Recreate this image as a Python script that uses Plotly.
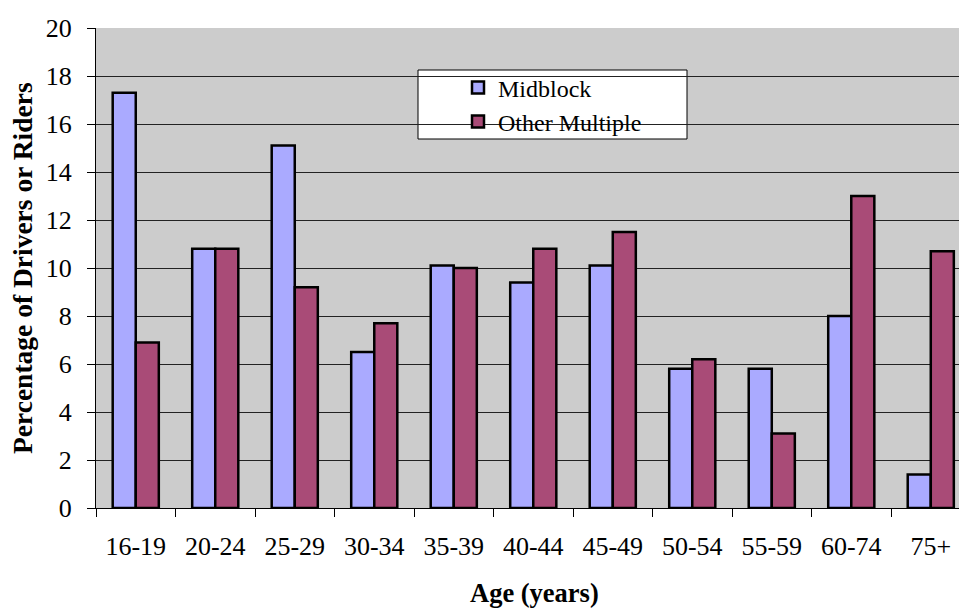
import plotly.graph_objects as go

categories = ["16-19", "20-24", "25-29", "30-34", "35-39", "40-44", "45-49", "50-54", "55-59", "60-74", "75+"]
midblock = [17.3, 10.8, 15.1, 6.5, 10.1, 9.4, 10.1, 5.8, 5.8, 8.0, 1.4]
other_multiple = [6.9, 10.8, 9.2, 7.7, 10.0, 10.8, 11.5, 6.2, 3.1, 13.0, 10.7]
y_ticks = [0, 2, 4, 6, 8, 10, 12, 14, 16, 18, 20]

FONT = "Liberation Serif"

fig = go.Figure()
fig.add_trace(go.Bar(
    x=categories, y=midblock, name="Midblock",
    marker=dict(color="#AAAAFF", line=dict(color="black", width=2.5)),
    legend="legend", showlegend=True,
))
fig.add_trace(go.Bar(
    x=categories, y=other_multiple, name="Other Multiple",
    marker=dict(color="#A94B77", line=dict(color="black", width=2.5)),
    legend="legend2", showlegend=True,
))

L, T, B = 96, 28, 102
W, H = 959, 610
pw = W - L
ph = H - T - B


def px(x):
    return (x - L) / pw


def py(y):
    return (H - B - y) / ph


fig.update_layout(
    width=W, height=H,
    margin=dict(l=L, r=0, t=T, b=B),
    paper_bgcolor="white",
    plot_bgcolor="#CCCCCC",
    barmode="group",
    bargap=0.42,
    bargroupgap=0,
    showlegend=True,
    font=dict(family=FONT, size=25, color="black"),
    xaxis=dict(
        range=[-0.5, 10.355],
        tickson="boundaries",
        ticks="outside", ticklen=8, tickcolor="black", tickwidth=1,
        showline=True, linecolor="black", linewidth=1,
        showgrid=False,
        tickfont=dict(family=FONT, size=26),
        ticklabelstandoff=15,
    ),
    yaxis=dict(
        range=[0, 20],
        tickvals=y_ticks,
        ticks="outside", ticklen=8, tickcolor="black", tickwidth=1,
        showline=True, linecolor="black", linewidth=1,
        showgrid=True, gridcolor="#222222", gridwidth=1,
        zeroline=False,
        tickfont=dict(family=FONT, size=26),
        ticklabelstandoff=10,
    ),
    legend=dict(
        x=px(458), y=py(88), xanchor="left", yanchor="middle",
        bgcolor="rgba(0,0,0,0)", borderwidth=0,
        font=dict(family=FONT, size=24),
    ),
    legend2=dict(
        x=px(458), y=py(122), xanchor="left", yanchor="middle",
        bgcolor="rgba(0,0,0,0)", borderwidth=0,
        font=dict(family=FONT, size=24),
    ),
    shapes=[dict(
        type="rect", xref="paper", yref="paper",
        x0=px(418), x1=px(687), y0=py(139), y1=py(70),
        fillcolor="white", line=dict(color="black", width=1), layer="between",
    )],
    annotations=[
        dict(text="<b>Percentage of Drivers or Riders</b>", textangle=-90,
             xref="paper", yref="paper", x=px(22), y=py(268),
             xanchor="center", yanchor="middle", showarrow=False,
             font=dict(family=FONT, size=27.5)),
        dict(text="<b>Age (years)</b>",
             xref="paper", yref="paper", x=px(534), y=py(593),
             xanchor="center", yanchor="middle", showarrow=False,
             font=dict(family=FONT, size=26.5)),
    ],
)

fig.write_html(
    "out.html",
    config={"displayModeBar": False},
    post_script="document.body.style.margin='0px';document.body.style.overflow='hidden';",
)
